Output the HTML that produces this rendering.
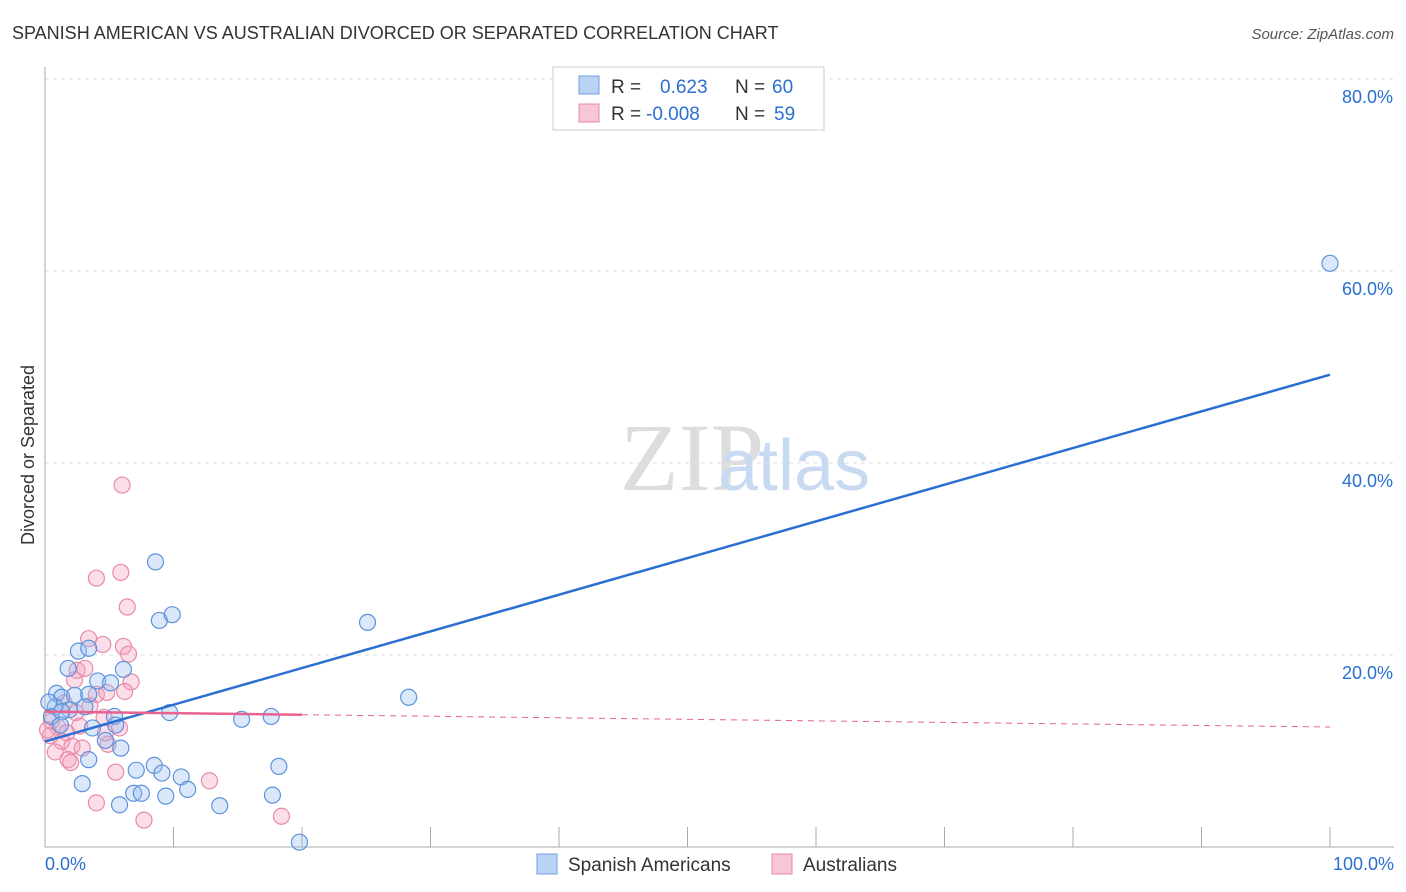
<!DOCTYPE html>
<html><head><meta charset="utf-8"><style>
body{margin:0;background:#fff;font-family:"Liberation Sans",sans-serif;}
svg{display:block}
</style></head><body>
<svg id="chart" width="1406" height="892" xmlns="http://www.w3.org/2000/svg">
<text x="12" y="39" font-size="18" fill="#333">SPANISH AMERICAN VS AUSTRALIAN DIVORCED OR SEPARATED CORRELATION CHART</text>
<text x="1394" y="39" font-size="15" fill="#555" font-style="italic" text-anchor="end">Source: ZipAtlas.com</text>
<text x="620" y="490" font-size="96" fill="#ddd" font-family="Liberation Serif,serif">ZIP</text>
<text x="718" y="490" font-size="72" fill="#c8daf2">atlas</text>
<text transform="translate(34,455) rotate(-90)" font-size="18" fill="#333" text-anchor="middle">Divorced or Separated</text>
<g id="grid"></g><g id="ticks"></g><g id="pts"></g><g id="lines"></g>
<g>
<rect x="553" y="67" width="271" height="63" fill="#fff" stroke="#ccc"/>
<rect x="579" y="76" width="20" height="18" fill="#b9d3f4" stroke="#6f9fe0"/>
<rect x="579" y="104" width="20" height="18" fill="#f9c6d6" stroke="#e68aa8"/>
<text x="611" y="93" font-size="19" fill="#333">R = </text><text x="660" y="93" font-size="19" fill="#2a6fd1">0.623</text>
<text x="735" y="93" font-size="19" fill="#333">N = </text><text x="772" y="93" font-size="19" fill="#2a6fd1">60</text>
<text x="611" y="120" font-size="19" fill="#333">R = </text><text x="646" y="120" font-size="19" fill="#2a6fd1">-0.008</text>
<text x="735" y="120" font-size="19" fill="#333">N = </text><text x="774" y="120" font-size="19" fill="#2a6fd1">59</text>
</g>
<g>
<rect x="537" y="854" width="20" height="20" fill="#b9d3f4" stroke="#6f9fe0"/>
<text x="568" y="871" font-size="19" fill="#333">Spanish Americans</text>
<rect x="772" y="854" width="20" height="20" fill="#f9c6d6" stroke="#e68aa8"/>
<text x="803" y="871" font-size="19" fill="#333">Australians</text>
</g>
<text x="45" y="870" font-size="18" fill="#2a6fd1">0.0%</text>
<text x="1394" y="870" font-size="18" fill="#2a6fd1" text-anchor="end">100.0%</text>
</svg>
<script>
const yTicks=[20,40,60,80];
const blueX=[8.6,8.9,9.9,25.1,28.3,100,2.6,3.4,1.8,6.1,4.1,5.1,0.9,1.3,2.3,3.4,0.8,1.9,3.1,9.7,15.3,17.6,5.4,0.5,3.7,5.5,4.7,5.9,3.4,2.9,7.1,8.5,9.1,10.6,11.1,6.9,7.5,9.4,5.8,13.6,17.7,18.2,19.8,1.3,0.3,1.2];
const blueY=[29.7,23.6,24.2,23.4,15.6,60.8,20.4,20.7,18.6,18.5,17.3,17.1,16.0,15.6,15.8,15.9,14.6,14.3,14.6,14.0,13.3,13.6,13.6,13.6,12.4,12.7,11.1,10.3,9.1,6.6,8.0,8.5,7.7,7.3,6.0,5.6,5.6,5.3,4.4,4.3,5.4,8.4,0.5,14.1,15.1,12.7];
const pinkX=[6.0,4.0,5.9,6.4,3.4,4.5,6.1,6.5,2.5,3.1,6.7,2.3,6.2,4.0,4.8,1.5,3.5,2.4,0.5,1.0,1.7,0.4,1.3,2.1,2.9,0.8,1.8,4.9,4.7,5.5,4.0,7.7,12.8,18.4,2.0,4.6,5.8,0.2,2.7];
const pinkY=[37.7,28.0,28.6,25.0,21.7,21.1,20.9,20.1,18.4,18.6,17.2,17.4,16.2,15.9,16.1,15.0,14.7,14.0,13.1,12.5,11.9,11.6,11.0,10.5,10.3,9.9,9.1,10.7,11.9,7.8,4.6,2.8,6.9,3.2,8.8,13.5,12.4,12.2,12.6];
const blueFit=[11.0,49.2];
const pinkFit=[14.1,12.5];
const NS="http://www.w3.org/2000/svg";
const sx=v=>45+v*12.85, sy=v=>847-v*9.6;
function mk(t,a,p){const e=document.createElementNS(NS,t);for(const k in a)e.setAttribute(k,a[k]);p.appendChild(e);return e;}
const grid=document.getElementById('grid');
yTicks.forEach(t=>{
 const l=mk('line',{x1:45,x2:1394,y1:sy(t),y2:sy(t),stroke:'#ddd','stroke-dasharray':'4,4'},grid);
 
 
 const tx=mk('text',{x:1393,y:sy(t)+24,'font-size':18,fill:'#2a6fd1','text-anchor':'end'},grid);
 tx.textContent=t.toFixed(1)+'%';
 
 
});
const tk=document.getElementById('ticks');
let ax=mk('line',{x1:45,x2:1394,y1:847,y2:847,stroke:'#aaa'},tk);


let ay=mk('line',{x1:45,x2:45,y1:67,y2:847,stroke:'#aaa'},tk);


for(let i=1;i<=10;i++){const l=mk('line',{x1:sx(i*10),x2:sx(i*10),y1:827,y2:847,stroke:'#aaa'},tk);
 
 }
const pts=document.getElementById('pts');
pinkX.forEach((x,i)=>{const c=mk('circle',{cx:sx(x),cy:sy(pinkY[i]),r:8,fill:'rgba(244,160,188,0.35)',stroke:'#e88aa9','stroke-width':1.2},pts);
 
 });
blueX.forEach((x,i)=>{const c=mk('circle',{cx:sx(x),cy:sy(blueY[i]),r:8,fill:'rgba(150,190,240,0.35)',stroke:'#5d92dc','stroke-width':1.2},pts);
 
 });
const ln=document.getElementById('lines');
let b=mk('line',{x1:sx(0),y1:sy(blueFit[0]),x2:sx(100),y2:sy(blueFit[1]),stroke:'#2a6fd1','stroke-width':2.5},ln);


const pAt=x=>pinkFit[0]+(pinkFit[1]-pinkFit[0])*x/100;
let p1=mk('line',{x1:sx(0),y1:sy(pAt(0)),x2:sx(20),y2:sy(pAt(20)),stroke:'#e8628f','stroke-width':2.5},ln);


let p2=mk('line',{x1:sx(20),y1:sy(pAt(20)),x2:sx(100),y2:sy(pAt(100)),stroke:'#e8628f','stroke-width':1,'stroke-dasharray':'6,5'},ln);


</script>
</body></html>
